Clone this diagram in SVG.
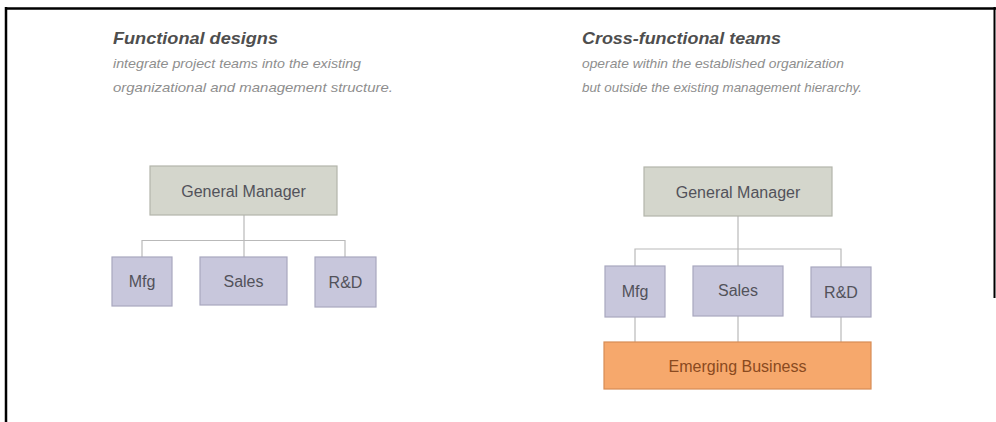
<svg xmlns="http://www.w3.org/2000/svg" width="996" height="422" viewBox="0 0 996 422">
  <style>
    .title { font-family: "Liberation Sans", Arial, sans-serif; font-size: 17px; font-weight: bold; font-style: italic; fill: #4e4e4e; }
    .sub { font-family: "Liberation Sans", Arial, sans-serif; font-size: 13px; font-style: italic; fill: #8e8e8e; }
    .lbl { font-family: "Liberation Sans", Arial, sans-serif; font-size: 16px; fill: #52525a; text-anchor: middle; }
    .gm { fill: #d4d6cc; stroke: #b3b5ab; stroke-width: 1.2; }
    .unit { fill: #c8c7dc; stroke: #a8a7be; stroke-width: 1.2; }
    .emerg { fill: #f6a86c; stroke: #d88d55; stroke-width: 1.2; }
    .emerg-lbl { fill: #8a4a20; }
    .conn { fill: none; stroke: #b9b9b9; stroke-width: 1.2; }
  </style>

  <rect width="996" height="422" fill="#ffffff"/>

  <!-- frame rules -->
  <line x1="6" y1="8.5" x2="996" y2="8.5" stroke="#000" stroke-width="2.5"/>
  <line x1="6" y1="7" x2="6" y2="422" stroke="#000" stroke-width="2.5"/>
  <line x1="994.5" y1="7" x2="994.5" y2="298" stroke="#000" stroke-width="2"/>

  <!-- left heading -->
  <g id="heading-functional">
    <text class="title" x="113" y="44" textLength="165" lengthAdjust="spacingAndGlyphs">Functional designs</text>
    <text class="sub" x="113" y="68" textLength="248" lengthAdjust="spacingAndGlyphs">integrate project teams into the existing</text>
    <text class="sub" x="113" y="92" textLength="280" lengthAdjust="spacingAndGlyphs">organizational and management structure.</text>
  </g>

  <!-- right heading -->
  <g id="heading-cross">
    <text class="title" x="582" y="44" textLength="199" lengthAdjust="spacingAndGlyphs">Cross-functional teams</text>
    <text class="sub" x="582" y="68" textLength="262" lengthAdjust="spacingAndGlyphs">operate within the established organization</text>
    <text class="sub" x="582" y="92" textLength="280" lengthAdjust="spacingAndGlyphs">but outside the existing management hierarchy.</text>
  </g>

  <!-- connectors -->
  <g id="connectors">
    <!-- functional chart -->
    <path class="conn" d="M244 215 V240.5 M142 257 V240.5 H345 V257 M244 240.5 V257"/>
    <!-- cross-functional chart -->
    <path class="conn" d="M738 216 V249 M635 266 V249 H841 V267 M738 249 V266"/>
    <path class="conn" d="M635 317 V342 M738 316 V342 M841 317 V342"/>
  </g>

  <!-- functional chart nodes -->
  <g id="f-gm">
    <rect class="gm" x="150" y="166" width="187" height="49"/>
    <text class="lbl" x="243.5" y="196.5">General Manager</text>
  </g>
  <g id="f-mfg">
    <rect class="unit" x="112" y="257" width="60" height="49"/>
    <text class="lbl" x="142" y="287">Mfg</text>
  </g>
  <g id="f-sales">
    <rect class="unit" x="200" y="257" width="87" height="48"/>
    <text class="lbl" x="243.5" y="286.5">Sales</text>
  </g>
  <g id="f-rd">
    <rect class="unit" x="315" y="257" width="61" height="50"/>
    <text class="lbl" x="345.5" y="287.5">R&amp;D</text>
  </g>

  <!-- cross-functional chart nodes -->
  <g id="c-gm">
    <rect class="gm" x="644" y="167" width="188" height="49"/>
    <text class="lbl" x="738" y="197.5">General Manager</text>
  </g>
  <g id="c-mfg">
    <rect class="unit" x="605" y="266" width="60" height="51"/>
    <text class="lbl" x="635" y="297">Mfg</text>
  </g>
  <g id="c-sales">
    <rect class="unit" x="693" y="266" width="90" height="50"/>
    <text class="lbl" x="738" y="296">Sales</text>
  </g>
  <g id="c-rd">
    <rect class="unit" x="811" y="267" width="60" height="50"/>
    <text class="lbl" x="841" y="297.5">R&amp;D</text>
  </g>
  <g id="c-emerging">
    <rect class="emerg" x="604" y="342" width="267" height="47"/>
    <text class="lbl emerg-lbl" x="737.5" y="371.5">Emerging Business</text>
  </g>
</svg>
